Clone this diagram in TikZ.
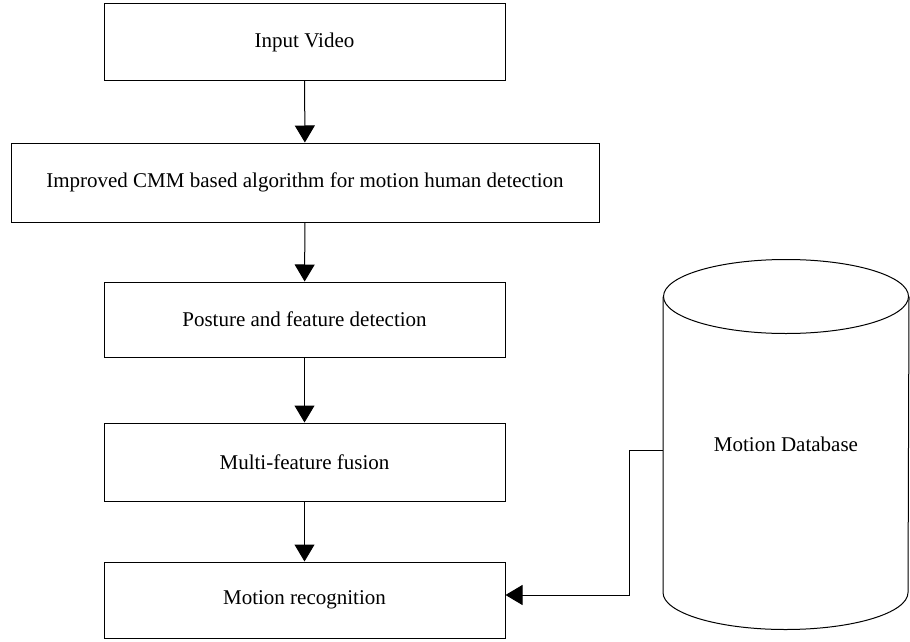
\documentclass[tikz,border=0pt]{standalone}
\usepackage{fontspec}
\setmainfont{Liberation Serif}
\usetikzlibrary{arrows.meta}

\begin{document}
\begin{tikzpicture}[x=1pt, y=-1pt, line width=1pt,
  stage/.style={draw, rectangle, minimum width=401pt, minimum height=77pt, inner sep=0pt, font=\fontsize{21}{25}\selectfont},
  flow/.style={-{Triangle[length=17pt, width=20pt]}}]
  \useasboundingbox (0,0) rectangle (910,642);

  % Processing chain
  \node[stage] (video) at (304.5, 42) {Input Video};
  \node[stage, minimum width=588pt, minimum height=79pt] (cmm) at (305, 182.5) {Improved CMM based algorithm for motion human detection};
  \node[stage, minimum height=75pt] (posture) at (304.5, 319.5) {Posture and feature detection};
  \node[stage, minimum height=78pt] (fusion) at (304.5, 462) {Multi-feature fusion};
  \node[stage, minimum height=76pt] (recog) at (304.5, 600) {Motion recognition};

  % Database cylinder
  \node[rectangle, minimum width=245pt, minimum height=295pt, inner sep=0pt, font=\fontsize{21}{25}\selectfont] (db) at (786, 444.5) {Motion Database};
  \draw (db.north) ellipse [x radius=122.5pt, y radius=37pt];
  \draw (db.north west) -- (db.south west) arc[start angle=180, end angle=360, x radius=122.5pt, y radius=37pt] -- (db.north east);

  % Connectors
  \coordinate (bend) at (629, 450);
  \draw[flow] (video) -- (cmm);
  \draw[flow] (cmm) -- (posture);
  \draw[flow] (posture) -- (fusion);
  \draw[flow] (fusion) -- (recog);
  \draw[flow] (db.west |- bend) -- (bend) |- ([yshift=5pt]recog.east);
\end{tikzpicture}
\end{document}
